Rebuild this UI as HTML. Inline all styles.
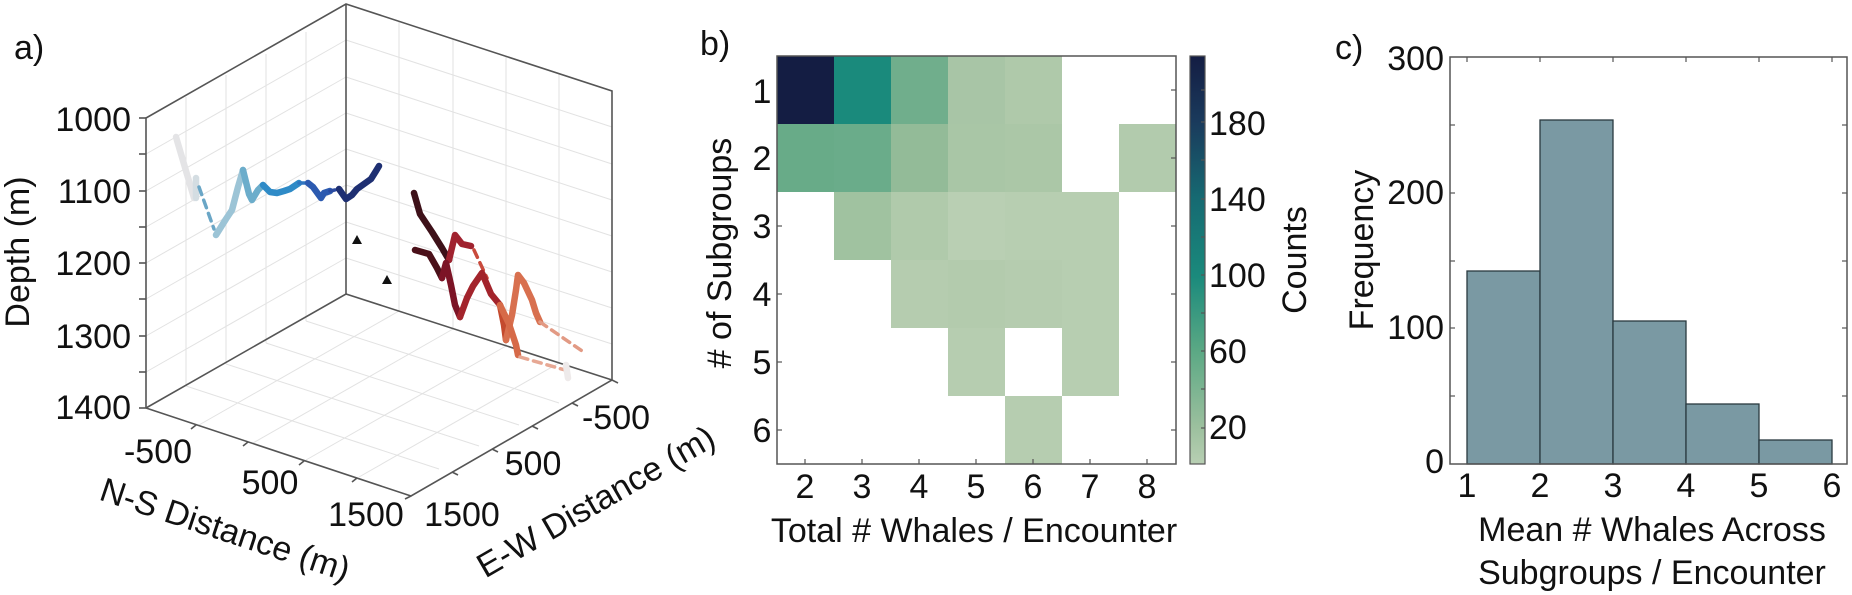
<!DOCTYPE html>
<html><head><meta charset="utf-8"><style>
html,body{margin:0;padding:0;background:#fff;}
svg{display:block;font-family:"Liberation Sans",sans-serif;}
</style></head><body>
<svg width="1852" height="595" viewBox="0 0 1852 595" xmlns="http://www.w3.org/2000/svg">
<defs>
<linearGradient id="cb" x1="0" y1="1" x2="0" y2="0">
<stop offset="0" stop-color="#b8cfb3"/>
<stop offset="0.09" stop-color="#9cc09e"/>
<stop offset="0.28" stop-color="#5aa884"/>
<stop offset="0.46" stop-color="#1a8a7c"/>
<stop offset="0.65" stop-color="#166a72"/>
<stop offset="0.84" stop-color="#1a3a5c"/>
<stop offset="1" stop-color="#141d43"/>
</linearGradient>
</defs>

<!-- ========== Panel a ========== -->
<g stroke="#e2e2e2" stroke-width="1" fill="none">
  <line x1="186" y1="97" x2="186" y2="386"/><line x1="226" y1="75" x2="226" y2="364"/>
  <line x1="266" y1="54" x2="266" y2="343"/><line x1="306" y1="32" x2="306" y2="321"/>
  <line x1="146" y1="154" x2="346" y2="40"/><line x1="146" y1="191" x2="346" y2="77"/>
  <line x1="146" y1="227" x2="346" y2="113"/><line x1="146" y1="263" x2="346" y2="149"/>
  <line x1="146" y1="299" x2="346" y2="185"/><line x1="146" y1="336" x2="346" y2="222"/>
  <line x1="146" y1="372" x2="346" y2="258"/>
  <line x1="399" y1="21" x2="399" y2="311"/><line x1="453" y1="39" x2="453" y2="329"/>
  <line x1="506" y1="56" x2="506" y2="346"/><line x1="559" y1="74" x2="559" y2="363"/>
  <line x1="346" y1="40" x2="612" y2="127"/><line x1="346" y1="77" x2="612" y2="164"/>
  <line x1="346" y1="113" x2="612" y2="200"/><line x1="346" y1="149" x2="612" y2="236"/>
  <line x1="346" y1="185" x2="612" y2="272"/><line x1="346" y1="222" x2="612" y2="308"/>
  <line x1="346" y1="258" x2="612" y2="344"/>
  <line x1="186" y1="386" x2="439" y2="469"/><line x1="226" y1="364" x2="479" y2="446"/>
  <line x1="266" y1="343" x2="519" y2="425"/><line x1="306" y1="321" x2="559" y2="403"/>
  <line x1="399" y1="311" x2="199" y2="425"/><line x1="453" y1="329" x2="253" y2="443"/>
  <line x1="506" y1="346" x2="306" y2="460"/><line x1="559" y1="363" x2="359" y2="477"/>
</g>
<g stroke="#555" stroke-width="1.6" fill="none">
  <polyline points="146,408 146,118 346,4 612,91 612,380"/>
  <line x1="346" y1="4" x2="346" y2="294"/>
  <polyline points="146,408 346,294 612,380"/>
  <polyline points="146,408 411,496 612,380"/>
  <g>
  <line x1="139" y1="118" x2="146" y2="118"/><line x1="139" y1="154" x2="146" y2="154"/>
  <line x1="139" y1="191" x2="146" y2="191"/><line x1="139" y1="227" x2="146" y2="227"/>
  <line x1="139" y1="263" x2="146" y2="263"/><line x1="139" y1="299" x2="146" y2="299"/>
  <line x1="139" y1="336" x2="146" y2="336"/><line x1="139" y1="372" x2="146" y2="372"/>
  <line x1="139" y1="408" x2="146" y2="408"/>
  </g>
  <line x1="196" y1="425" x2="191" y2="429"/><line x1="248" y1="442" x2="243" y2="446"/>
  <line x1="304" y1="461" x2="299" y2="465"/><line x1="357" y1="478" x2="352" y2="482"/>
  <line x1="411" y1="496" x2="405" y2="499"/>
  <line x1="612" y1="380" x2="618" y2="383"/><line x1="572" y1="403" x2="578" y2="406"/>
  <line x1="532" y1="426" x2="538" y2="429"/><line x1="492" y1="449" x2="498" y2="452"/>
  <line x1="452" y1="472" x2="458" y2="475"/>
</g>
<g font-size="34" fill="#111" text-anchor="end" dominant-baseline="central">
  <text x="131" y="120">1000</text><text x="131" y="192">1100</text>
  <text x="131" y="264">1200</text><text x="131" y="337">1300</text>
  <text x="131" y="408">1400</text>
</g>
<g font-size="34" fill="#111" text-anchor="middle" dominant-baseline="central">
  <text x="158" y="452">-500</text><text x="270" y="483">500</text><text x="366" y="515">1500</text>
  <text x="616" y="418">-500</text><text x="533" y="464">500</text><text x="462" y="515">1500</text>
</g>
<text x="18" y="252" font-size="34" fill="#111" text-anchor="middle" dominant-baseline="central" transform="rotate(-90 18 252)">Depth (m)</text>
<text x="225" y="530" font-size="34" fill="#111" text-anchor="middle" dominant-baseline="central" transform="rotate(18.4 225 530)">N-S Distance (m)</text>
<text x="596" y="502" font-size="34" fill="#111" text-anchor="middle" dominant-baseline="central" transform="rotate(-30 596 502)">E-W Distance (m)</text>
<text x="14" y="48" font-size="34" fill="#111" dominant-baseline="central">a)</text>

<g fill="none" stroke-linecap="round" stroke-linejoin="round" stroke-width="6.5">
  <polyline points="176,137 194,198" stroke="#e4e4e6"/>
  <polyline points="196,178 196,198" stroke="#d4dde2"/>
  <polyline points="199,187 214,229" stroke="#6aa6c6" stroke-width="3.5" stroke-dasharray="8,6"/>
  <polyline points="216,235 226,219 232,210 238,187 243,170" stroke="#9cc4d6"/>
  <polyline points="243,170 249,194 252,200 258,190 263,185" stroke="#6cadcb"/>
  <polyline points="263,185 270,192 277,193 284,191 290,189 299,183" stroke="#2f8bc7"/>
  <polyline points="299,183 308,183" stroke="#2f75c0" stroke-width="3.5" stroke-dasharray="6,4"/>
  <polyline points="308,183 313,187 321,198 324,193 330,191" stroke="#2c5ab0"/>
  <polyline points="330,191 339,189" stroke="#2a4aa0" stroke-width="3.5" stroke-dasharray="5,4"/>
  <polyline points="339,189 346,199 352,195 357,189 364,184 371,179 376,171 379,166" stroke="#1e2f72"/>
  <polyline points="414,193 420,214 432,232 442,248 449,260" stroke="#3e1119"/>
  <polyline points="449,260 455,235 462,244 471,246" stroke="#a0222f"/>
  <polyline points="474,250 487,278" stroke="#c94a3c" stroke-width="3.5" stroke-dasharray="8,6"/>
  <polyline points="415,250 429,254 437,268 442,278" stroke="#4a1019"/>
  <polyline points="442,278 446,263 451,285 455,305 460,317" stroke="#7c1426"/>
  <polyline points="460,317 467,298 473,286 482,273 491,294 500,305" stroke="#a3242c"/>
  <polyline points="500,305 504,325 506,340" stroke="#c44a2e"/>
  <polyline points="506,340 512,315 516,290 518,275 524,283 532,300 536,313 540,322" stroke="#d8704f"/>
  <polyline points="540,322 585,353" stroke="#e29a84" stroke-width="3.5" stroke-dasharray="8,6"/>
  <polyline points="500,305 509,324 516,345 518,355" stroke="#d66a48"/>
  <polyline points="520,357 565,370" stroke="#e7a894" stroke-width="3.5" stroke-dasharray="8,6"/>
  <polyline points="566,365 568,378" stroke="#eeeaea"/>
</g>
<polygon points="357,235 352,244 362,244" fill="#111"/>
<polygon points="387,275 382,284 392,284" fill="#111"/>

<!-- ========== Panel b ========== -->
<text x="700" y="44" font-size="34" fill="#111" dominant-baseline="central">b)</text>
<g shape-rendering="crispEdges">
  <rect x="777" y="56" width="57" height="68" fill="#141d43"/>
  <rect x="834" y="56" width="57" height="68" fill="#1a8a7c"/>
  <rect x="891" y="56" width="57" height="68" fill="#70ae8c"/>
  <rect x="948" y="56" width="57" height="68" fill="#a8c5a6"/>
  <rect x="1005" y="56" width="57" height="68" fill="#afc9aa"/>
  <rect x="777" y="124" width="57" height="68" fill="#68ab88"/>
  <rect x="834" y="124" width="57" height="68" fill="#6aac8a"/>
  <rect x="891" y="124" width="57" height="68" fill="#93bb98"/>
  <rect x="948" y="124" width="57" height="68" fill="#a9c6a6"/>
  <rect x="1005" y="124" width="57" height="68" fill="#abc7a7"/>
  <rect x="1119" y="124" width="57" height="68" fill="#b2cbad"/>
  <rect x="834" y="192" width="57" height="68" fill="#a0c2a0"/>
  <rect x="891" y="192" width="57" height="68" fill="#b0caab"/>
  <rect x="948" y="192" width="57" height="68" fill="#b9cfb3"/>
  <rect x="1005" y="192" width="57" height="68" fill="#b7ceb1"/>
  <rect x="1062" y="192" width="57" height="68" fill="#b7ceb1"/>
  <rect x="891" y="260" width="57" height="68" fill="#b5ccaf"/>
  <rect x="948" y="260" width="57" height="68" fill="#b3cbad"/>
  <rect x="1005" y="260" width="57" height="68" fill="#b5ccaf"/>
  <rect x="1062" y="260" width="57" height="68" fill="#b7ceb1"/>
  <rect x="948" y="328" width="57" height="68" fill="#b6cdb0"/>
  <rect x="1062" y="328" width="57" height="68" fill="#b7ceb1"/>
  <rect x="1005" y="396" width="57" height="68" fill="#b6cdb0"/>
</g>
<rect x="777" y="56" width="399" height="408" fill="none" stroke="#555" stroke-width="1.5"/>
<g stroke="#555" stroke-width="1.2">
  <line x1="805" y1="464" x2="805" y2="459"/><line x1="862" y1="464" x2="862" y2="459"/>
  <line x1="919" y1="464" x2="919" y2="459"/><line x1="976" y1="464" x2="976" y2="459"/>
  <line x1="1033" y1="464" x2="1033" y2="459"/><line x1="1090" y1="464" x2="1090" y2="459"/>
  <line x1="1147" y1="464" x2="1147" y2="459"/>
  <line x1="1176" y1="90" x2="1171" y2="90"/><line x1="1176" y1="158" x2="1171" y2="158"/>
  <line x1="1176" y1="226" x2="1171" y2="226"/><line x1="1176" y1="294" x2="1171" y2="294"/>
  <line x1="1176" y1="362" x2="1171" y2="362"/><line x1="1176" y1="430" x2="1171" y2="430"/>
  <line x1="777" y1="226" x2="782" y2="226"/><line x1="777" y1="294" x2="782" y2="294"/>
  <line x1="777" y1="362" x2="782" y2="362"/><line x1="777" y1="430" x2="782" y2="430"/>
</g>
<g font-size="34" fill="#111" text-anchor="middle" dominant-baseline="central">
  <text x="762" y="92">1</text><text x="762" y="159">2</text><text x="762" y="227">3</text>
  <text x="762" y="295">4</text><text x="762" y="363">5</text><text x="762" y="431">6</text>
  <text x="805" y="487">2</text><text x="862" y="487">3</text><text x="919" y="487">4</text>
  <text x="976" y="487">5</text><text x="1033" y="487">6</text><text x="1090" y="487">7</text>
  <text x="1147" y="487">8</text>
</g>
<text x="974" y="531" font-size="34" fill="#111" text-anchor="middle" dominant-baseline="central">Total # Whales / Encounter</text>
<text x="720" y="253" font-size="34" fill="#111" text-anchor="middle" dominant-baseline="central" transform="rotate(-90 720 253)"># of Subgroups</text>
<rect x="1190" y="56" width="15" height="408" fill="url(#cb)" stroke="#555" stroke-width="1.2"/>
<g stroke="#555" stroke-width="1.2">
  <line x1="1205" y1="122" x2="1201" y2="122"/><line x1="1205" y1="199" x2="1201" y2="199"/>
  <line x1="1205" y1="275" x2="1201" y2="275"/><line x1="1205" y1="351" x2="1201" y2="351"/>
  <line x1="1205" y1="428" x2="1201" y2="428"/>
  <line x1="1205" y1="160" x2="1201" y2="160"/><line x1="1205" y1="237" x2="1201" y2="237"/>
  <line x1="1205" y1="313" x2="1201" y2="313"/><line x1="1205" y1="389" x2="1201" y2="389"/>
  <line x1="1205" y1="90" x2="1201" y2="90"/>
</g>
<g font-size="34" fill="#111" dominant-baseline="central">
  <text x="1209" y="124">180</text><text x="1209" y="200">140</text><text x="1209" y="276">100</text>
  <text x="1209" y="352">60</text><text x="1209" y="428">20</text>
</g>
<text x="1295" y="260" font-size="34" fill="#111" text-anchor="middle" dominant-baseline="central" transform="rotate(-90 1295 260)">Counts</text>

<!-- ========== Panel c ========== -->
<text x="1335" y="48" font-size="34" fill="#111" dominant-baseline="central">c)</text>
<g fill="#7a99a3" stroke="#2a3a40" stroke-width="1.3">
  <rect x="1467" y="271" width="73" height="193"/>
  <rect x="1540" y="120" width="73" height="344"/>
  <rect x="1613" y="321" width="73" height="143"/>
  <rect x="1686" y="404" width="73" height="60"/>
  <rect x="1759" y="440" width="73" height="24"/>
</g>
<rect x="1450" y="57" width="397" height="407" fill="none" stroke="#555" stroke-width="1.5"/>
<g stroke="#555" stroke-width="1.2">
  <line x1="1467" y1="57" x2="1467" y2="62"/><line x1="1540" y1="57" x2="1540" y2="62"/>
  <line x1="1613" y1="57" x2="1613" y2="62"/><line x1="1686" y1="57" x2="1686" y2="62"/>
  <line x1="1759" y1="57" x2="1759" y2="62"/><line x1="1832" y1="57" x2="1832" y2="62"/>
  <line x1="1450" y1="125" x2="1455" y2="125"/><line x1="1450" y1="193" x2="1455" y2="193"/>
  <line x1="1450" y1="261" x2="1455" y2="261"/><line x1="1450" y1="328" x2="1455" y2="328"/>
  <line x1="1450" y1="396" x2="1455" y2="396"/>
  <line x1="1847" y1="125" x2="1842" y2="125"/><line x1="1847" y1="193" x2="1842" y2="193"/>
  <line x1="1847" y1="261" x2="1842" y2="261"/><line x1="1847" y1="328" x2="1842" y2="328"/>
  <line x1="1847" y1="396" x2="1842" y2="396"/>
</g>
<g font-size="34" fill="#111" text-anchor="end" dominant-baseline="central">
  <text x="1444" y="59">300</text><text x="1444" y="193">200</text>
  <text x="1444" y="328">100</text><text x="1444" y="462">0</text>
</g>
<g font-size="34" fill="#111" text-anchor="middle" dominant-baseline="central">
  <text x="1467" y="486">1</text><text x="1540" y="486">2</text><text x="1613" y="486">3</text>
  <text x="1686" y="486">4</text><text x="1759" y="486">5</text><text x="1832" y="486">6</text>
  <text x="1652" y="530">Mean # Whales Across</text>
  <text x="1652" y="573">Subgroups / Encounter</text>
</g>
<text x="1362" y="250" font-size="34" fill="#111" text-anchor="middle" dominant-baseline="central" transform="rotate(-90 1362 250)">Frequency</text>
</svg>
</body></html>
